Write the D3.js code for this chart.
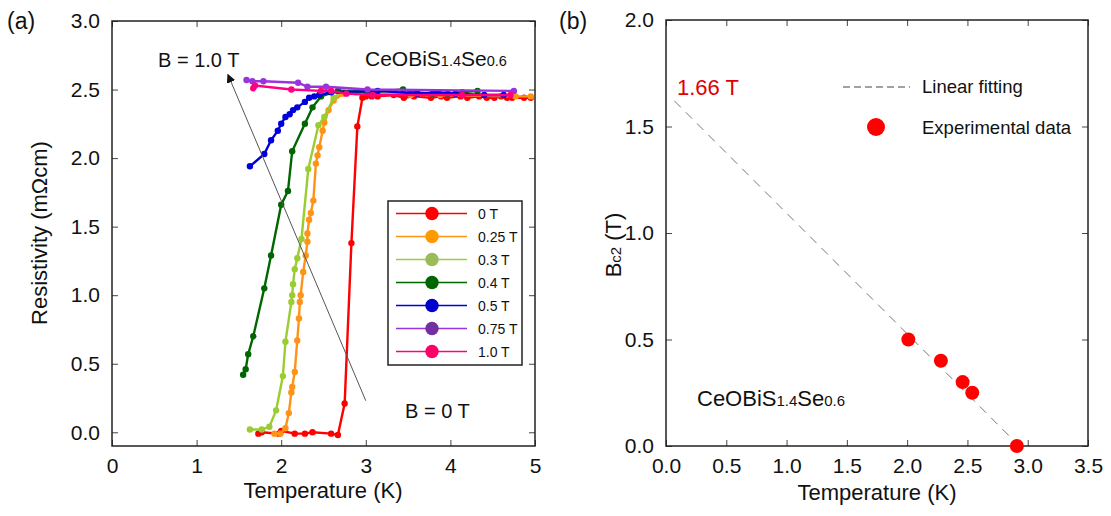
<!DOCTYPE html>
<html>
<head>
<meta charset="utf-8">
<script src="https://cdn.jsdelivr.net/npm/d3@7"></script>
<style>
  body { margin: 0; background: #fff; }
  svg text { font-family: "Liberation Sans", Arial, sans-serif; fill: #111; }
</style>
</head>
<body>
<svg id="chart" width="1111" height="516"></svg>
<script>
// ---- panel (a): resistivity vs temperature, [T (K), rho (mOhm cm)]
const fields = ["0 T", "0.25 T", "0.3 T", "0.4 T", "0.5 T", "0.75 T", "1.0 T"];
const lineColors = ["#ff0000", "#ff9316", "#9acd32", "#006600", "#0000dd", "#9933dd", "#ff0080"];
const legendDotColors = ["#ff0000", "#ff9900", "#9bbb59", "#006600", "#0000cc", "#7030a0", "#ff0066"];

const rho0T = [[1.73, -0.01], [1.77, 0.0], [1.97, -0.01], [2.0, 0.01], [2.16, -0.01], [2.28, -0.01],
  [2.37, 0.0], [2.59, -0.01], [2.67, -0.02], [2.75, 0.21], [2.83, 1.38], [2.90, 2.23], [2.96, 2.44],
  [3.0, 2.45], [3.07, 2.45], [3.14, 2.45], [3.33, 2.46], [3.45, 2.44], [3.57, 2.45], [3.77, 2.44],
  [3.89, 2.45], [3.96, 2.44], [4.12, 2.45], [4.2, 2.44], [4.34, 2.45], [4.43, 2.44], [4.52, 2.44],
  [4.6, 2.45], [4.67, 2.44], [4.73, 2.44], [4.87, 2.44], [4.95, 2.44]];
const rho025T = [[1.92, -0.01], [1.99, -0.01], [2.05, 0.03], [2.09, 0.14], [2.12, 0.29], [2.13, 0.33],
  [2.16, 0.44], [2.19, 0.67], [2.21, 0.83], [2.22, 0.95], [2.23, 1.0], [2.26, 1.17], [2.29, 1.29],
  [2.31, 1.39], [2.31, 1.45], [2.33, 1.55], [2.35, 1.6], [2.38, 1.69], [2.41, 1.96], [2.43, 2.02],
  [2.45, 2.08], [2.49, 2.2], [2.51, 2.26], [2.56, 2.35], [2.62, 2.42], [2.73, 2.47], [2.80, 2.48],
  [2.88, 2.48], [3.1, 2.48], [3.16, 2.48], [3.53, 2.46], [3.88, 2.46], [4.77, 2.45], [4.95, 2.45]];
const rho03T = [[1.63, 0.02], [1.77, 0.02], [1.86, 0.04], [1.94, 0.16], [2.02, 0.41], [2.05, 0.66],
  [2.12, 0.95], [2.13, 1.0], [2.14, 1.08], [2.16, 1.19], [2.19, 1.27], [2.24, 1.41], [2.32, 1.92],
  [2.44, 2.24], [2.51, 2.30], [2.62, 2.44], [2.73, 2.49], [2.83, 2.49], [3.30, 2.48], [3.37, 2.48]];
const rho04T = [[1.55, 0.42], [1.58, 0.46], [1.61, 0.57], [1.67, 0.70], [1.80, 1.05], [1.88, 1.29],
  [2.0, 1.66], [2.08, 1.76], [2.13, 2.05], [2.28, 2.25], [2.37, 2.37], [2.47, 2.45], [2.67, 2.49],
  [3.02, 2.48], [3.44, 2.5], [3.57, 2.48], [3.79, 2.47], [3.97, 2.47], [4.14, 2.48], [4.32, 2.49]];
const rho05T = [[1.63, 1.94], [1.80, 2.03], [1.88, 2.13], [1.96, 2.20], [2.0, 2.25], [2.05, 2.30],
  [2.10, 2.32], [2.14, 2.35], [2.19, 2.37], [2.28, 2.41], [2.33, 2.44], [2.39, 2.45], [2.45, 2.46],
  [2.59, 2.48], [3.14, 2.49], [3.61, 2.47], [3.85, 2.48], [4.06, 2.47], [4.40, 2.46], [4.63, 2.46]];
const rho075T = [[1.59, 2.57], [1.66, 2.56], [1.79, 2.56], [2.2, 2.55], [2.31, 2.52], [2.53, 2.52],
  [3.02, 2.5], [4.75, 2.49]];
const rho10T = [[1.67, 2.51], [1.69, 2.53], [2.12, 2.5], [2.47, 2.49], [2.59, 2.49], [2.77, 2.47],
  [3.08, 2.46], [4.14, 2.46], [4.71, 2.46]];
const curves = [rho0T, rho025T, rho03T, rho04T, rho05T, rho075T, rho10T];

const xTicksA = [0, 1, 2, 3, 4, 5];
const yTicksA = [0, 0.5, 1.0, 1.5, 2.0, 2.5, 3.0];
const arrowFrom = [3.0, 0.23], arrowTo = [1.37, 2.61];

// ---- panel (b): upper critical field
const tcK = [2.01, 2.28, 2.46, 2.54, 2.91];
const bc2T = [0.5, 0.4, 0.3, 0.25, 0.0];
const fitT = [0.07, 2.93];
const fitB = [1.62, 0.0];
const xTicksB = [0, 0.5, 1.0, 1.5, 2.0, 2.5, 3.0, 3.5];
const yTicksB = [0, 0.5, 1.0, 1.5, 2.0];

const svg = d3.select("#chart");
const FONT = "'Liberation Sans', Arial, sans-serif";

function drawAxes(x, y, xticks, yticks, xfmt, yfmt) {
  const x0 = x.range()[0], x1 = x.range()[1], y0 = y.range()[0], y1 = y.range()[1];
  const g = svg.append("g");
  g.append("g").attr("transform", "translate(0," + y0 + ")")
    .call(d3.axisBottom(x).tickValues(xticks).tickFormat(xfmt).tickSizeInner(-6).tickSizeOuter(0).tickPadding(12));
  g.append("g").attr("transform", "translate(0," + y1 + ")")
    .call(d3.axisTop(x).tickValues(xticks).tickFormat("").tickSizeInner(-6).tickSizeOuter(0));
  g.append("g").attr("transform", "translate(" + x0 + ",0)")
    .call(d3.axisLeft(y).tickValues(yticks).tickFormat(yfmt).tickSizeInner(-6).tickSizeOuter(0).tickPadding(12));
  g.append("g").attr("transform", "translate(" + x1 + ",0)")
    .call(d3.axisRight(y).tickValues(yticks).tickFormat("").tickSizeInner(-6).tickSizeOuter(0));
  g.selectAll(".domain").remove();
  g.selectAll(".tick line").attr("stroke", "#444");
  g.selectAll(".tick text").attr("font-size", 21).attr("font-family", FONT).attr("fill", "#111");
  g.append("rect")
    .attr("x", x0).attr("y", y1)
    .attr("width", x1 - x0).attr("height", y0 - y1)
    .attr("fill", "none").attr("stroke", "#222").attr("stroke-width", 1.5);
}

// formula-ish text with small numbers at the baseline
function compound(x, y, parts, big, small) {
  const t = svg.append("text").attr("x", x).attr("y", y);
  parts.forEach(function (p, i) {
    t.append("tspan").text(p).attr("font-size", i % 2 === 0 ? big : small);
  });
  return t;
}

// ================= panel (a)
const xa = d3.scaleLinear().domain([0, 5]).range([112, 535]);
const ya = d3.scaleLinear().domain([-0.1, 3.0]).range([446, 21]);

drawAxes(xa, ya, xTicksA, yTicksA, d3.format("d"), d3.format(".1f"));

const line = d3.line()
  .x(function (d) { return xa(d[0]); })
  .y(function (d) { return ya(d[1]); });

curves.forEach(function (c, i) {
  const g = svg.append("g");
  g.append("path").datum(c)
    .attr("d", line)
    .attr("fill", "none")
    .attr("stroke", lineColors[i])
    .attr("stroke-width", 2.4);
  g.selectAll("circle").data(c).enter().append("circle")
    .attr("cx", function (d) { return xa(d[0]); })
    .attr("cy", function (d) { return ya(d[1]); })
    .attr("r", 3.2)
    .attr("fill", lineColors[i]);
});

// arrow B = 0 T -> B = 1.0 T
svg.append("defs").append("marker")
  .attr("id", "head").attr("viewBox", "0 0 10 10")
  .attr("refX", 9).attr("refY", 5)
  .attr("markerWidth", 9).attr("markerHeight", 9)
  .attr("markerUnits", "userSpaceOnUse")
  .attr("orient", "auto")
  .append("path").attr("d", "M0,0 L10,5 L0,10 Z").attr("fill", "#111");

svg.append("line")
  .attr("x1", xa(arrowFrom[0])).attr("y1", ya(arrowFrom[1]))
  .attr("x2", xa(arrowTo[0])).attr("y2", ya(arrowTo[1]))
  .attr("stroke", "#555").attr("stroke-width", 1)
  .attr("marker-end", "url(#head)");

svg.append("text").attr("x", 158).attr("y", 67).attr("font-size", 20).text("B = 1.0 T");
svg.append("text").attr("x", 405).attr("y", 418).attr("font-size", 20).text("B = 0 T");
compound(365, 66, ["CeOBiS", "1.4", "Se", "0.6"], 21, 14.5);

// legend (a)
const lg = svg.append("g");
lg.append("rect").attr("x", 388).attr("y", 201).attr("width", 134).attr("height", 164)
  .attr("fill", "#fff").attr("stroke", "#222").attr("stroke-width", 1.5);
fields.forEach(function (f, i) {
  const yy = 213.5 + i * 23;
  lg.append("line").attr("x1", 396).attr("x2", 467).attr("y1", yy).attr("y2", yy)
    .attr("stroke", lineColors[i]).attr("stroke-width", 1.5);
  lg.append("circle").attr("cx", 432).attr("cy", yy).attr("r", 6.7).attr("fill", legendDotColors[i]);
  lg.append("text").attr("x", 478).attr("y", yy + 5).attr("font-size", 14).text(f);
});

svg.append("text").attr("x", 323).attr("y", 498).attr("font-size", 22)
  .attr("text-anchor", "middle").text("Temperature (K)");
svg.append("text").attr("transform", "translate(47,233) rotate(-90)").attr("font-size", 22)
  .attr("text-anchor", "middle").text("Resistivity (mΩcm)");
svg.append("text").attr("x", 7).attr("y", 29).attr("font-size", 23).text("(a)");

// ================= panel (b)
const xb = d3.scaleLinear().domain([0, 3.5]).range([666, 1088]);
const yb = d3.scaleLinear().domain([0, 2]).range([446, 20]);

drawAxes(xb, yb, xTicksB, yTicksB, d3.format(".1f"), d3.format(".1f"));

svg.append("line")
  .attr("x1", xb(fitT[0])).attr("y1", yb(fitB[0]))
  .attr("x2", xb(fitT[1])).attr("y2", yb(fitB[1]))
  .attr("stroke", "#777").attr("stroke-width", 1)
  .attr("stroke-dasharray", "9,7");

svg.append("g").selectAll("circle")
  .data(tcK).enter().append("circle")
  .attr("cx", function (d) { return xb(d); })
  .attr("cy", function (d, i) { return yb(bc2T[i]); })
  .attr("r", 7)
  .attr("fill", "#ff0000");

svg.append("text").attr("x", 677).attr("y", 95).attr("font-size", 22)
  .style("fill", "#e00000").text("1.66 T");

svg.append("line").attr("x1", 843).attr("x2", 910).attr("y1", 87).attr("y2", 87)
  .attr("stroke", "#444").attr("stroke-width", 1).attr("stroke-dasharray", "7,4");
svg.append("text").attr("x", 922).attr("y", 93).attr("font-size", 18.5).text("Linear fitting");
svg.append("circle").attr("cx", 876).attr("cy", 127).attr("r", 9).attr("fill", "#ff0000");
svg.append("text").attr("x", 922).attr("y", 134).attr("font-size", 18.5).text("Experimental data");

compound(697, 406, ["CeOBiS", "1.4", "Se", "0.6"], 22, 15);

svg.append("text").attr("x", 877).attr("y", 500).attr("font-size", 22)
  .attr("text-anchor", "middle").text("Temperature (K)");
const by = svg.append("text").attr("transform", "translate(621,245) rotate(-90)")
  .attr("text-anchor", "middle");
by.append("tspan").attr("font-size", 22).text("B");
by.append("tspan").attr("font-size", 15).text("c2");
by.append("tspan").attr("font-size", 22).text(" (T)");
svg.append("text").attr("x", 559).attr("y", 29).attr("font-size", 23).text("(b)");
</script>
</body>
</html>
